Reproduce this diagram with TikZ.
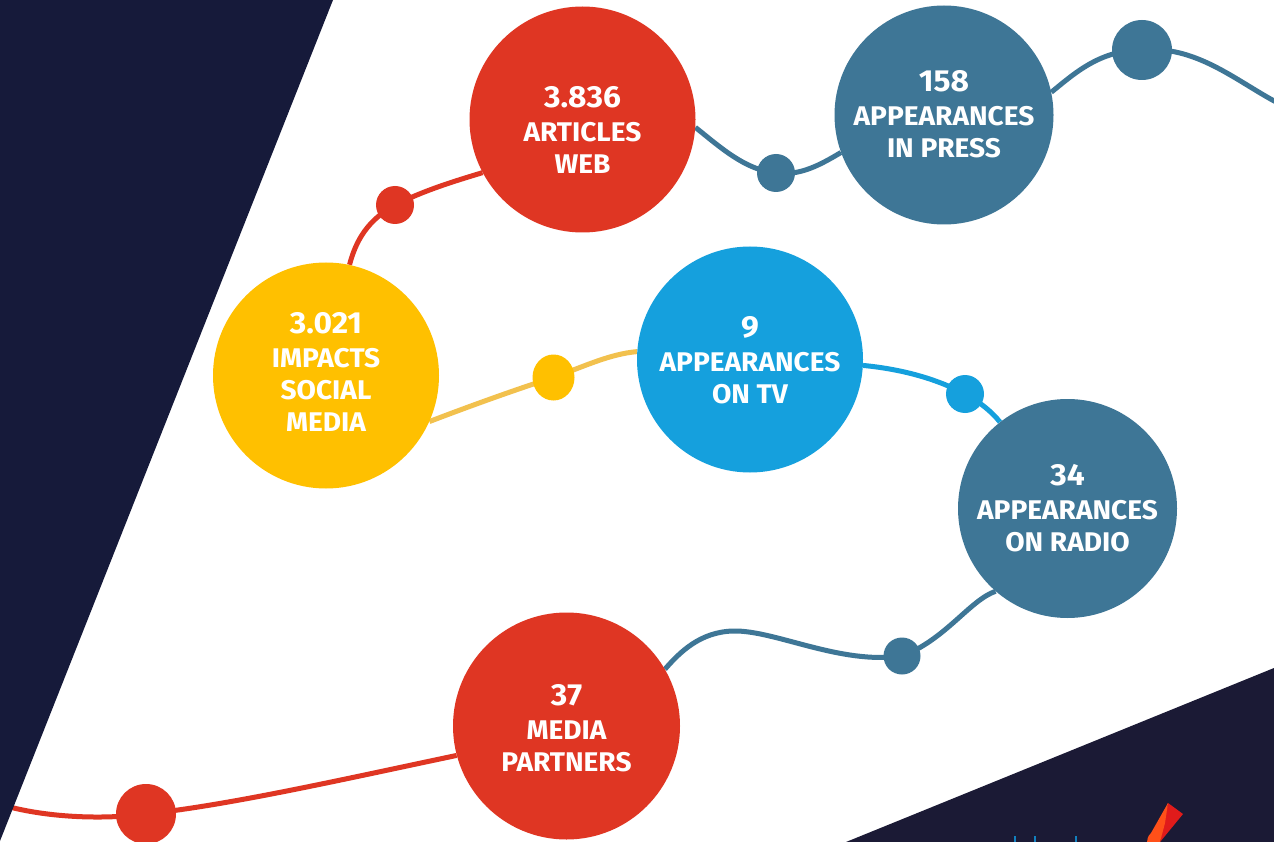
\documentclass[tikz,border=0pt]{standalone}
\usepackage{fontspec}
\usetikzlibrary{shapes.geometric}
\setmainfont[FakeStretch=1.04]{Fira Sans}
\definecolor{navyL}{HTML}{161A3A}
\definecolor{navyR}{HTML}{1B1A35}
\definecolor{redc}{HTML}{DF3623}
\definecolor{steel}{HTML}{3E7696}
\definecolor{sky}{HTML}{15A0DD}
\definecolor{amber}{HTML}{FFC000}
\definecolor{amberl}{HTML}{F2C14E}
\definecolor{logoO}{HTML}{FF5019}
\definecolor{logoR}{HTML}{E01B1B}
\definecolor{logoB}{HTML}{1280BE}
\tikzset{
  bubble/.style={circle,inner sep=0pt,minimum size=#1},
  txt/.style={inner sep=0pt,align=center,text=white,font=\bfseries\fontsize{27}{32}\selectfont},
  dotn/.style={circle,inner sep=0pt,minimum size=#1},
  link/.style={line width=5pt}
}
\newcommand{\bnum}[1]{{\fontsize{30.5}{35}\selectfont #1}\\[2pt]}
\pgfdeclarelayer{linklayer}
\pgfsetlayers{linklayer,main}
\begin{document}
\begin{tikzpicture}[x=1pt,y=-1pt]
\useasboundingbox (0,0) rectangle (1274,842);
% nodes
\node[bubble=226pt,fill=amber,label={[txt,yshift=3.5pt]center:{\bnum{3.021}IMPACTS\\SOCIAL\\MEDIA}}] (social) at (326,375.5) {};
\node[bubble=226pt,fill=redc,label={[txt,yshift=-10pt]center:{\bnum{3.836}ARTICLES\\WEB}}] (web) at (582.5,119.5) {};
\node[bubble=219pt,fill=steel,label={[txt,yshift=1pt]center:{\bnum{158}APPEARANCES\\IN PRESS}}] (press) at (944,115) {};
\node[bubble=226pt,fill=sky,label={[txt,yshift=-1pt]center:{\bnum{9}APPEARANCES\\ON TV}}] (tv) at (750,359.5) {};
\node[bubble=219pt,fill=steel,label={[txt]center:{\bnum{34}APPEARANCES\\ON RADIO}}] (radio) at (1067.5,508.5) {};
\node[bubble=227pt,fill=redc,label={[txt,yshift=-2pt]center:{\bnum{37}MEDIA\\PARTNERS}}] (partners) at (566.5,726) {};
\node[dotn=38pt,fill=redc] (d1) at (395,205) {};
\node[dotn=38pt,fill=steel] (d2) at (776,173) {};
\node[dotn=60pt,fill=steel] (d3) at (1142,50) {};
\node[ellipse,inner sep=0pt,minimum width=42pt,minimum height=46pt,fill=amber] (d4) at (553.5,377.5) {};
\node[dotn=38pt,fill=sky] (d5) at (965,394) {};
\node[dotn=37pt,fill=steel] (d6) at (902,656) {};
\node[dotn=60pt,fill=redc] (d7) at (146,814) {};
\coordinate (startL) at (4,805.5);
\coordinate (endR) at (1276,102);
\begin{pgfonlayer}{linklayer}
\fill[white] (0,0) rectangle (1274,842);
\draw[link,redc] (social.78) .. controls (356,240) and (368,220) .. (d1.center);
\draw[link,redc] (d1.center) .. controls (425,190) and (455,181) .. (web.208);
\draw[link,steel] (web.-4) .. controls (720,147) and (745,170) .. (d2.center);
\draw[link,steel] (d2.center) .. controls (800,176) and (820,165) .. (press.200);
\draw[link,steel] (press.12) .. controls (1075,73) and (1100,50) .. (d3.center);
\draw[link,steel] (d3.center) .. controls (1195,45) and (1235,80) .. (endR);
\draw[link,amberl] (social.-24) .. controls (470,406) and (520,388) .. (d4.center);
\draw[link,amberl] (d4.center) .. controls (585,366) and (610,354) .. (tv.176);
\draw[link,sky] (tv.-3) .. controls (900,369) and (935,378) .. (d5.center);
\draw[link,sky] (d5.center) .. controls (980,402) and (992,412) .. (radio.128);
\draw[link,steel] (radio.229) .. controls (970,600) and (945,640) .. (d6.center);
\draw[link,steel] (d6.center) .. controls (840,665) and (775,630) .. (733,631) .. controls (700,632) and (680,652) .. (partners.30);
\draw[link,redc] (partners.195) .. controls (340,780) and (230,805) .. (d7.center);
\draw[link,redc] (d7.center) .. controls (100,820) and (45,817) .. (startL);
\fill[navyL] (0,0) -- (333,0) -- (0,841) -- cycle;
\fill[navyR] (846,842) -- (1274,668) -- (1274,842) -- cycle;
\fill[logoB] (1014.2,836) rectangle (1016,842);
\fill[logoB] (1034.2,836) rectangle (1036,842);
\fill[logoB] (1075,836) rectangle (1076.8,842);
\fill[logoR] (1168,803) -- (1183,814) -- (1160,842) -- cycle;
\fill[logoO] (1168,803) -- (1151,833) .. controls (1148,836) and (1147,839) .. (1147,842) -- (1160,842) -- (1165,823) -- cycle;
\end{pgfonlayer}
\end{tikzpicture}
\end{document}
